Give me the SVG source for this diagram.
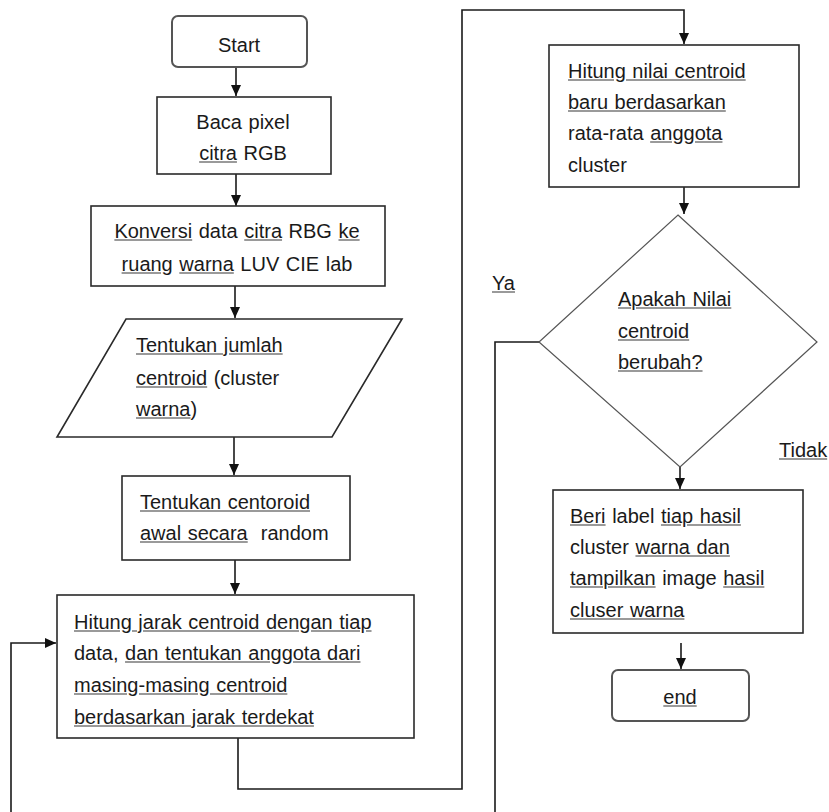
<svg xmlns="http://www.w3.org/2000/svg" width="829" height="812" viewBox="0 0 829 812">
<style>
text{font-family:"Liberation Sans",Arial,sans-serif;font-size:20px;fill:#1a1a1a;word-spacing:1px}
.box{fill:#fff;stroke:#2a2a2a;stroke-width:1.6}
.term{fill:#fff;stroke:#555;stroke-width:2}
.dia{fill:#fff;stroke:#555;stroke-width:1.2}
.c{fill:none;stroke:#1a1a1a;stroke-width:1.6}
.m{text-anchor:middle}
.w{text-decoration:underline;fill:#9a9a9a}
.w tspan{fill:#1a1a1a}
</style>
<defs>
<marker id="ah" viewBox="0 0 11 10" refX="11" refY="5" markerWidth="11" markerHeight="10" markerUnits="userSpaceOnUse" orient="auto">
<path d="M0,0 L11,5 L0,10 z" fill="#111"/>
</marker>
</defs>
<g id="connectors">
<path class="c" d="M236,67 V96" marker-end="url(#ah)"/>
<path class="c" d="M236,174 V206" marker-end="url(#ah)"/>
<path class="c" d="M235,286 V318" marker-end="url(#ah)"/>
<path class="c" d="M234,437 V475" marker-end="url(#ah)"/>
<path class="c" d="M235,560 V594" marker-end="url(#ah)"/>
<path class="c" d="M238,738 V789 H462 V10 H684 V44" marker-end="url(#ah)"/>
<path class="c" d="M684,187 V214" marker-end="url(#ah)"/>
<path class="c" d="M680,462 V489" marker-end="url(#ah)"/>
<path class="c" d="M681,643 V669" marker-end="url(#ah)"/>
<path class="c" d="M539,342 H495 V812"/>
<path class="c" d="M11,812 V643 H56" marker-end="url(#ah)"/>
<text x="492" y="290"><tspan class="w"><tspan>Ya</tspan></tspan></text>
<text x="779" y="457"><tspan class="w"><tspan>Tidak</tspan></tspan></text>
</g>
<g id="start">
<rect class="term" x="172" y="16" width="135" height="51" rx="6"/>
<text class="m" x="239" y="52">Start</text>
</g>
<g id="baca">
<rect class="box" x="157" y="97" width="174" height="77"/>
<text class="m" x="243" y="129">Baca pixel</text>
<text class="m" x="243" y="160"><tspan class="w"><tspan>citra</tspan></tspan> RGB</text>
</g>
<g id="konversi">
<rect class="box" x="91" y="206" width="294" height="80"/>
<text class="m" x="237" y="238"><tspan class="w"><tspan>Konversi</tspan></tspan> data <tspan class="w"><tspan>citra</tspan></tspan> RBG <tspan class="w"><tspan>ke</tspan></tspan></text>
<text class="m" x="237" y="271"><tspan class="w"><tspan>ruang</tspan></tspan> <tspan class="w"><tspan>warna</tspan></tspan> LUV CIE lab</text>
</g>
<g id="jumlah">
<polygon class="box" points="126,319 402,319 332,437 57,437"/>
<text x="136" y="352"><tspan class="w"><tspan>Tentukan jumlah </tspan></tspan></text>
<text x="136" y="385"><tspan class="w"><tspan>centroid</tspan></tspan> (cluster</text>
<text x="136" y="416"><tspan class="w"><tspan>warna</tspan></tspan>)</text>
</g>
<g id="awal">
<rect class="box" x="122" y="476" width="228" height="84"/>
<text x="140" y="509"><tspan class="w"><tspan>Tentukan centoroid</tspan></tspan></text>
<text x="140" y="540" xml:space="preserve"><tspan class="w"><tspan>awal secara</tspan></tspan>  random</text>
</g>
<g id="jarak">
<rect class="box" x="57" y="595" width="357" height="143"/>
<text x="74" y="629"><tspan class="w"><tspan>Hitung jarak centroid dengan tiap</tspan></tspan></text>
<text x="74" y="660">data, <tspan class="w"><tspan>dan tentukan anggota dari</tspan></tspan></text>
<text x="74" y="692"><tspan class="w"><tspan>masing-masing centroid</tspan></tspan></text>
<text x="74" y="724"><tspan class="w"><tspan>berdasarkan jarak terdekat</tspan></tspan></text>
</g>
<g id="nilai">
<rect class="box" x="549" y="45" width="250" height="142"/>
<text x="568" y="78"><tspan class="w"><tspan>Hitung nilai centroid</tspan></tspan></text>
<text x="568" y="109"><tspan class="w"><tspan>baru berdasarkan</tspan></tspan></text>
<text x="568" y="140">rata-rata <tspan class="w"><tspan>anggota</tspan></tspan></text>
<text x="568" y="172">cluster</text>
</g>
<g id="decision">
<polygon class="dia" points="678,215 817,342 680,467 539,342"/>
<text x="618" y="306"><tspan class="w"><tspan>Apakah Nilai</tspan></tspan></text>
<text x="618" y="338"><tspan class="w"><tspan>centroid</tspan></tspan></text>
<text x="618" y="369"><tspan class="w"><tspan>berubah?</tspan></tspan></text>
</g>
<g id="label">
<rect class="box" x="553" y="490" width="250" height="143"/>
<text x="570" y="523"><tspan class="w"><tspan>Beri</tspan></tspan> label <tspan class="w"><tspan>tiap hasil</tspan></tspan></text>
<text x="570" y="554">cluster <tspan class="w"><tspan>warna dan</tspan></tspan></text>
<text x="570" y="585"><tspan class="w"><tspan>tampilkan</tspan></tspan> image <tspan class="w"><tspan>hasil</tspan></tspan></text>
<text x="570" y="617"><tspan class="w"><tspan>cluser warna</tspan></tspan></text>
</g>
<g id="end">
<rect class="term" x="612" y="670" width="137" height="51" rx="6"/>
<text class="m" x="680" y="704"><tspan class="w"><tspan>end</tspan></tspan></text>
</g>
</svg>
